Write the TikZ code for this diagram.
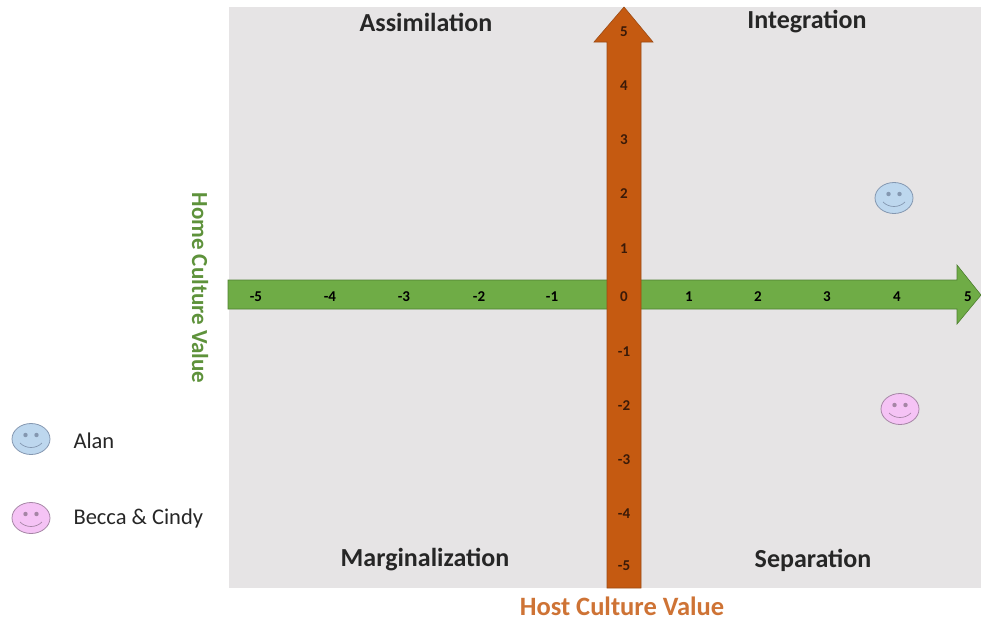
\documentclass[tikz,border=0pt]{standalone}
\usepackage{fontspec}
\setmainfont{Carlito}
\usetikzlibrary{shapes.geometric,calc}
\definecolor{panel}{HTML}{E6E4E5}
\definecolor{hostorange}{HTML}{C55A11}
\definecolor{hostedge}{HTML}{9C4A14}
\definecolor{homegreen}{HTML}{6FAC46}
\definecolor{homeedge}{HTML}{4E7F31}
\definecolor{alanfill}{HTML}{BDD7EE}
\definecolor{alanedge}{HTML}{8497B0}
\definecolor{beccafill}{HTML}{F5C3F5}
\definecolor{beccaedge}{HTML}{A585A5}
\definecolor{ticktext}{HTML}{3A1A08}

% smiley: name, position, fill, edge
\newcommand{\smiley}[4]{%
\node[face,fill=#3,draw=#4] (#1) at (#2) {};
\fill[#4] ($(#1)+(-5.5,-4)$) circle (2.2);
\fill[#4] ($(#1)+(5.5,-4)$) circle (2.2);
\draw[#4,line width=0.7pt] ($(#1)+(-11,4)$) .. controls ($(#1)+(-5,10)$) and ($(#1)+(5,10)$) .. ($(#1)+(11,4)$);
}

\begin{document}
\begin{tikzpicture}
[x=1pt,y=-1pt,
 face/.style={shape=ellipse,minimum width=38pt,minimum height=31pt,inner sep=0pt,line width=0.8pt},
 quadrant/.style={font=\fontsize{26}{28}\selectfont\bfseries,text=black!85},
 tick/.style={font=\fontsize{15}{16}\selectfont\bfseries,inner sep=0pt},
 legend/.style={font=\fontsize{22.5}{24}\selectfont,text=black!85,anchor=west}]
\useasboundingbox (0,0) rectangle (981,622);
\fill[panel] (229,7) rectangle (981,588);

% horizontal axis
\draw[fill=homegreen,draw=homeedge,line width=0.6pt]
(228,280) -- (957,280) -- (957,265) -- (981,295) -- (957,324) -- (957,309) -- (228,309) -- cycle;
\foreach \v/\x [count=\i] in {-5/256,-4/330,-3/404,-2/479,-1/552,1/689,2/758,3/827,4/897,5/968}
{
	\node[tick] (hx\i) at (\x,297) {\v};
}

% vertical axis
\draw[fill=hostorange,draw=hostedge,line width=0.6pt]
(607,588) -- (607,42) -- (594,42) -- (624,7) -- (653,42) -- (641,42) -- (641,588) -- cycle;
\foreach \v/\y [count=\i] in {5/32,4/86,3/140,2/194,1/249,0/297,-1/352,-2/406,-3/460,-4/514,-5/566}
{
	\node[tick,text=ticktext] (vy\i) at (624,\y) {\v};
}

\node[quadrant] (assim) at (426,22) {Assimilation};
\node[quadrant] (integ) at (807,22) {Integration};
\node[quadrant] (margin) at (425,560) {Marginalization};
\node[quadrant] (separ) at (813,560) {Separation};

\node[font=\fontsize{23}{25}\selectfont\bfseries,text=homegreen!85!black,rotate=-90] (home) at (200,288) {Home Culture Value};
\node[font=\fontsize{26.5}{28}\selectfont\bfseries,text=hostorange!85!white] (host) at (622,606) {Host Culture Value};

\smiley{alan}{894,198}{alanfill}{alanedge}
\smiley{becca}{900,409}{beccafill}{beccaedge}

\smiley{keyalan}{31,439}{alanfill}{alanedge}
\smiley{keybecca}{31,518}{beccafill}{beccaedge}
\node[legend] (alanlbl) at (70,441) {Alan};
\node[legend] (beccalbl) at (70,518) {Becca \& Cindy};
\end{tikzpicture}
\end{document}
